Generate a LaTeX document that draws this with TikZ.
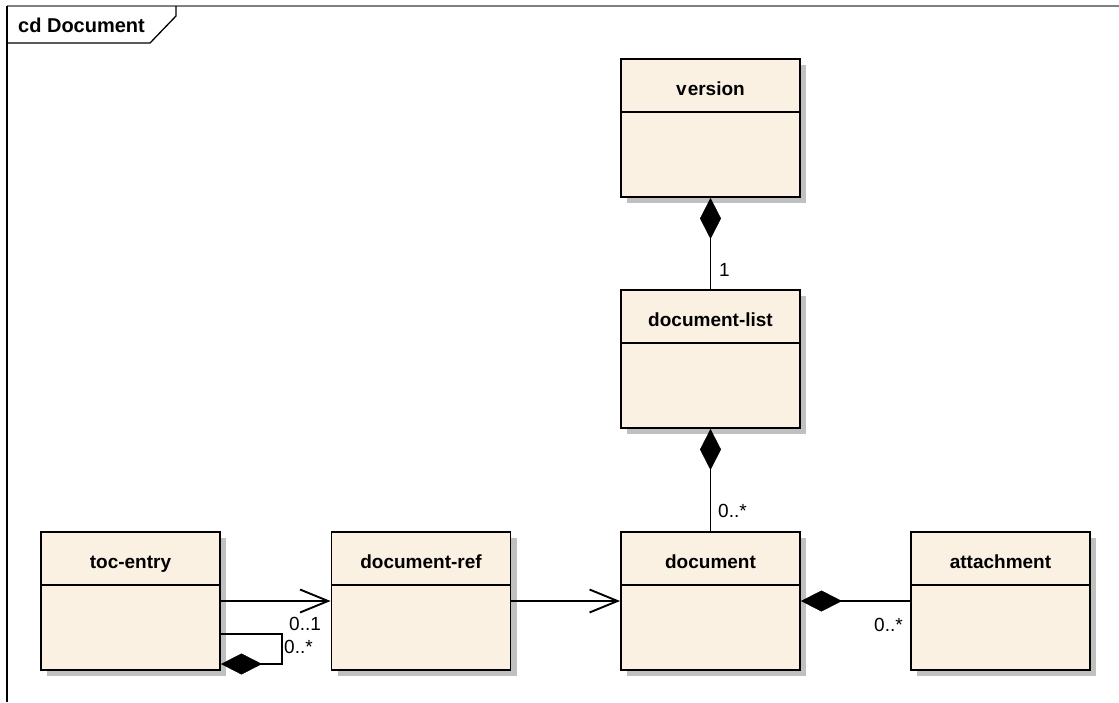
\documentclass[tikz,border=0pt]{standalone}
\usepackage{fontspec}
\setmainfont{Liberation Sans}
\usetikzlibrary{arrows.meta,shadows,calc}
\definecolor{classfill}{RGB}{251,241,226}
\definecolor{shadowgray}{RGB}{192,192,192}
\definecolor{framegray}{RGB}{128,128,128}
\tikzset{
  classbox/.style={draw=black, line width=1.9pt, fill=classfill, minimum width=179pt, minimum height=138pt, inner sep=0pt,
    drop shadow={shadow xshift=6pt, shadow yshift=-6pt, fill=shadowgray, opacity=1}},
  classname/.style={font=\bfseries\fontsize{19}{22}\selectfont, inner sep=0pt},
  mult/.style={font=\fontsize{19}{22}\selectfont, inner sep=0pt, anchor=base west},
  conn/.style={line width=1.9pt},
  comp/.style={conn, -{Diamond[length=41pt, width=21pt, line width=0.5pt]}},
  nav/.style={conn, -{Straight Barb[length=28pt, width=23pt, line width=1.9pt]}},
}
\begin{document}
\begin{tikzpicture}[x=1pt, y=-1pt]
\useasboundingbox (0,0) rectangle (1119,702);
% frame
\draw[framegray, line width=2pt] (7,6) -- (1119,6);
\draw[black, line width=1.8pt] (7,6) -- (7,702);
\draw[black, line width=1.3pt] (176,6) -- (176,16) -- (150,43) -- (7,43);
\node[classname, font=\bfseries\fontsize{20}{22}\selectfont, anchor=base west] (framelabel) at (18,32) {cd Document};
% classes
\newcommand{\umlclass}[4]{%
  \node[classbox] (#1) at (#2,#3) {};
  \draw[line width=1.9pt] ($(#1.north west)+(0,54)$) -- ($(#1.north east)+(0,54)$);
  \node[classname, anchor=base] (#1-title) at ($(#1.north)+(0,37)$) {#4};
}
\umlclass{version}{710.5}{128}{v\kern1pt ersion}
\umlclass{doclist}{710.5}{359}{document-list}
\umlclass{doc}{710.5}{601}{document}
\umlclass{attach}{1000.5}{601}{attachment}
\umlclass{toc}{130.5}{601}{toc-entry}
\umlclass{docref}{421}{601}{document-ref}
% connectors
\draw[comp] (doclist.north) -- (version.south);
\node[mult] (m1) at (719,276) {1};
\draw[comp] (doc.north) -- (doclist.south);
\node[mult] (m2) at (718,517) {0..*};
\draw[comp] (attach.west) -- (doc.east);
\node[mult] (m3) at (874,631) {0..*};
\draw[nav] (toc.east) -- (docref.west);
\node[mult] (m4) at (289,630) {0..1};
\draw[nav] (docref.east) -- (doc.west);
\coordinate (loopa) at ($(toc.east)+(61,33)$);
\draw[comp] ($(toc.east)+(0,33)$) -- (loopa) |- ($(toc.east)+(0,63)$);
\node[mult] (m5) at (284,653) {0..*};
\end{tikzpicture}
\end{document}
